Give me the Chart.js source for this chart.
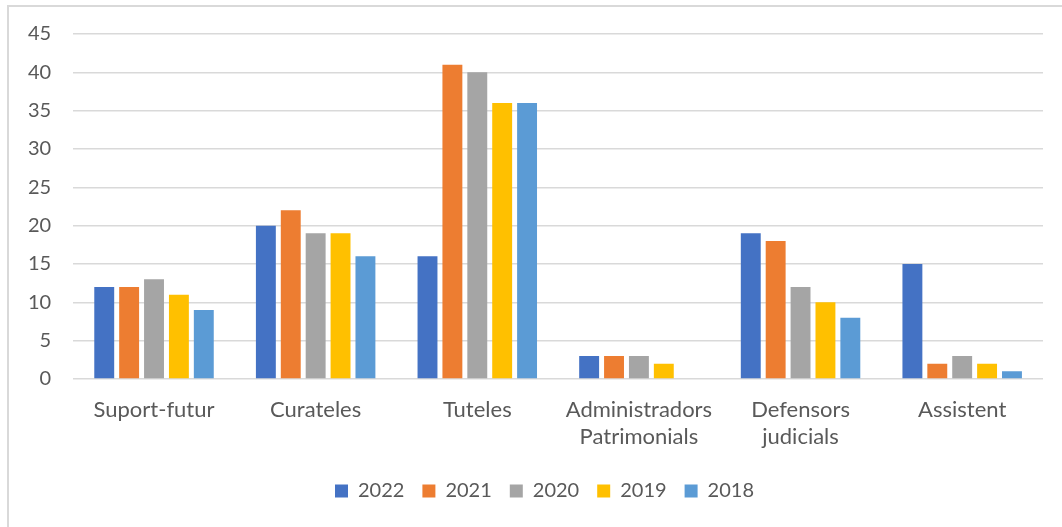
<!DOCTYPE html>
<html>
<head>
<meta charset="utf-8">
<script src="https://cdn.jsdelivr.net/npm/chart.js@4/dist/chart.umd.min.js"></script>
<style>
  body { margin: 0; background: #fff; }
  #frame { position: absolute; left: 7px; top: 5px; width: 1060px; height: 530px;
           border-left: 2px solid #d9d9d9; border-top: 2px solid #d9d9d9; }
  #wrap { position: absolute; left: 0; top: 0; width: 1062px; height: 527px; }
</style>
</head>
<body>
<div id="frame"></div>
<div id="wrap"><canvas id="chart"></canvas></div>
<script>
  // categories and series
  const categories = ['Suport-futur', 'Curateles', 'Tuteles', ['Administradors', 'Patrimonials'], ['Defensors', 'judicials'], 'Assistent'];
  const years = ['2022', '2021', '2020', '2019', '2018'];
  const colors = ['#4472C4', '#ED7D31', '#A5A5A5', '#FFC000', '#5B9BD5'];

  const v2022 = [12, 20, 16, 3, 19, 15];
  const v2021 = [12, 22, 41, 3, 18, 2];
  const v2020 = [13, 19, 40, 3, 12, 3];
  const v2019 = [11, 19, 36, 2, 10, 2];
  const v2018 = [9, 16, 36, 0, 8, 1];
  const series = [v2022, v2021, v2020, v2019, v2018];

  const textColor = '#595959';
  const family = 'Lato, "Open Sans", sans-serif';

  // the legend in the original sits a bit right of the page centre
  const nudgeLegend = {
    id: 'nudgeLegend',
    afterLayout(chart) {
      const lg = chart.legend;
      lg.left += 20; lg.right += 20;
      lg.top += 3; lg.bottom += 3;
    }
  };

  new Chart(document.getElementById('chart'), {
    type: 'bar',
    data: {
      labels: categories,
      datasets: series.map((data, i) => ({
        label: years[i],
        data: data,
        backgroundColor: colors[i],
        categoryPercentage: 0.77,
        barPercentage: 0.8
      }))
    },
    options: {
      responsive: true,
      maintainAspectRatio: false,
      animation: false,
      layout: { padding: { left: 6, right: 19, top: 24, bottom: 19 } },
      plugins: {
        tooltip: { enabled: false },
        legend: {
          position: 'bottom',
          labels: { color: textColor, font: { family: family, size: 20 }, boxWidth: 13, boxHeight: 13, padding: 18 }
        }
      },
      scales: {
        x: {
          grid: { display: false },
          border: { display: false },
          ticks: { color: textColor, font: { family: family, size: 22, lineHeight: 1.25 }, padding: 9, maxRotation: 0, autoSkip: false }
        },
        y: {
          min: 0,
          max: 45,
          ticks: { stepSize: 5, color: textColor, font: { family: family, size: 20 }, padding: 22 },
          grid: { color: '#d9d9d9', lineWidth: 1.5, drawTicks: false },
          border: { display: false }
        }
      }
    },
    plugins: [nudgeLegend]
  });
</script>
</body>
</html>
